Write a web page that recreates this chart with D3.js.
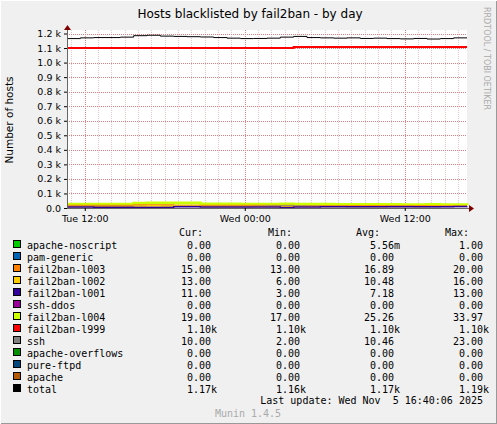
<!DOCTYPE html><html><head><script src="https://cdn.jsdelivr.net/npm/d3@7"></script>
<style>body{margin:0;background:#f0f0f0}text{font-family:"DejaVu Sans",sans-serif}.m{font-family:"DejaVu Sans Mono",monospace;font-size:10px}</style></head><body>
<svg id="c" width="497" height="424"></svg>
<script>
const hours=d3.range(31);
const total=[1165,1170,1172,1172,1175,1185,1188,1182,1180,1178,1176,1172,1168,1165,1166,1168,1175,1180,1172,1170,1168,1170,1166,1168,1165,1163,1166,1162,1165,1170,1170];
const l999=[1100,1100,1100,1100,1100,1100,1100,1100,1100,1100,1100,1100,1100,1100,1100,1100,1100,1108,1108,1108,1108,1108,1108,1108,1108,1108,1108,1108,1108,1108,1108];
const l004=[26,26,26,26,26,32,34,34,34,34,28,27,27,26,26,26,27,26,25,25,24,24,24,24,24,23,23,24,23,22,19];
const sshV=[10,10,10,10,10,14,16,14,12,12,10,10,10,10,12,14,16,14,12,10,10,8,8,8,10,10,8,8,10,10,10];
const l003=[17,17,17,17,17,20,20,20,18,18,17,17,17,17,17,17,17,16,16,16,16,16,16,16,16,16,16,15,15,15,15];
const l002=[10,10,10,10,10,14,16,14,12,12,10,10,10,10,10,10,10,10,10,10,10,10,10,10,10,10,10,12,12,13,13];
const l001=[7,7,6,6,6,3,3,3,8,8,7,7,7,7,7,7,3,7,7,8,8,8,8,8,8,8,8,8,9,10,11];
const names=["apache-noscript","pam-generic","fail2ban-l003","fail2ban-l002","fail2ban-l001","ssh-ddos","fail2ban-l004","fail2ban-l999","ssh","apache-overflows","pure-ftpd","apache","total"];
const colors=["#00cc00","#0066b3","#ff8000","#ffcc00","#330099","#990099","#ccff00","#ff0000","#808080","#008f00","#00487d","#b35a00","#000000"];
const cur=["0.00","0.00","15.00","13.00","11.00","0.00","19.00","1.10k","10.00","0.00","0.00","0.00","1.17k"];
const mn=["0.00","0.00","13.00","6.00","3.00","0.00","17.00","1.10k","2.00","0.00","0.00","0.00","1.16k"];
const avg=["5.56m","0.00","16.89","10.48","7.18","0.00","25.26","1.10k","10.46","0.00","0.00","0.00","1.17k"];
const mx=["1.00","0.00","20.00","16.00","13.00","0.00","33.97","1.10k","23.00","0.00","0.00","0.00","1.19k"];
const yTicks=d3.range(0,1201,100);
const xTicks=[{h:1.333,l:"Tue 12:00"},{h:13.333,l:"Wed 00:00"},{h:25.333,l:"Wed 12:00"}];

const svg=d3.select("#c");
svg.append("rect").attr("width",497).attr("height",424).attr("fill","#f0f0f0");
svg.append("line").attr("x1",0).attr("x2",497).attr("y1",423.5).attr("y2",423.5).attr("stroke","#999");
svg.append("line").attr("x1",496.5).attr("x2",496.5).attr("y1",0).attr("y2",424).attr("stroke","#999");
svg.append("line").attr("x1",0).attr("x2",497).attr("y1",0.5).attr("y2",0.5).attr("stroke","#fff");
svg.append("line").attr("x1",0.5).attr("x2",0.5).attr("y1",0).attr("y2",424).attr("stroke","#fff");
const L=67,R=467,T=34,B=208;
const x=d3.scaleLinear().domain([0,30]).range([L,R]);
const y=d3.scaleLinear().domain([0,1200]).range([B,33.5]);
svg.append("rect").attr("x",L).attr("y",30).attr("width",R-L).attr("height",B-30).attr("fill","#fff");
const g=svg.append("g");
d3.range(0,31).forEach(h=>{const xx=Math.round(x(h+0.333))+0.5; if(xx<R) g.append("line").attr("x1",xx).attr("x2",xx).attr("y1",30).attr("y2",B).attr("stroke","#e6c8c8").attr("stroke-dasharray","1,1");});
yTicks.forEach(v=>{const yy=Math.round(y(v))+0.5;g.append("line").attr("x1",L).attr("x2",R).attr("y1",yy).attr("y2",yy).attr("stroke","#e08080").attr("stroke-dasharray","1,1");});
xTicks.forEach(t=>{const xx=Math.round(x(t.h))+0.5;g.append("line").attr("x1",xx).attr("x2",xx).attr("y1",30).attr("y2",B).attr("stroke","#e08080").attr("stroke-dasharray","1,1");});
const line=d3.line().x((d,i)=>x(i)).y(d=>y(d)).curve(d3.curveStepAfter);
const lay=[[l004,6],[l003,2],[sshV,8],[l002,3],[l001,4]];
lay.forEach(([a,i])=>g.append("path").attr("d",line(a)).attr("fill","none").attr("stroke",colors[i]).attr("stroke-width",i==6?3:1.5));
g.append("path").attr("d",line(l999)).attr("fill","none").attr("stroke","#ff0000").attr("stroke-width",2);
g.append("path").attr("d",line(total)).attr("fill","none").attr("stroke","#000").attr("stroke-width",1);
// axes
const ax=svg.append("g").attr("transform",`translate(0,${B})`).call(d3.axisBottom(x).tickValues(xTicks.map(t=>t.h)).tickFormat((d,i)=>xTicks[i].l).tickSize(3));
ax.select(".domain").attr("d",`M${L},0.5H${R+5}`).attr("stroke","#666");
ax.selectAll("text").attr("font-size",9.5).attr("fill","#000").attr("dy",8);
const ay=svg.append("g").attr("transform",`translate(${L},0)`).call(d3.axisLeft(y).tickValues(yTicks).tickFormat(d=>d3.format(".1f")(d/1000)+" k").tickSize(3));
ay.select(".domain").attr("d",`M0.5,${B}V${28}`).attr("stroke","#666");
ay.selectAll("text").attr("font-size",9.5).attr("fill","#000");
ay.selectAll("text").filter(d=>d==0).text("0.0");
svg.append("path").attr("d",`M${R+2},${B-3}L${R+7},${B+0.5}L${R+2},${B+4}Z`).attr("fill","#800000");
svg.append("path").attr("d",`M${L-3},30L${L+0.5},25L${L+4},30Z`).attr("fill","#800000");
svg.append("text").attr("x",250).attr("y",18).attr("text-anchor","middle").attr("font-size",12).text("Hosts blacklisted by fail2ban - by day");
svg.append("text").attr("transform","translate(13,120) rotate(-90)").attr("text-anchor","middle").attr("font-size",10.5).text("Number of hosts");
svg.append("text").attr("transform","translate(484,7) rotate(90)").attr("font-size",8).attr("fill","#aaa").text("RRDTOOL / TOBI OETIKER");
// legend
const cols=[[203,"Cur:"],[292,"Min:"],[380,"Avg:"],[469,"Max:"]];
cols.forEach(c=>svg.append("text").attr("class","m").attr("x",c[0]).attr("y",236).attr("text-anchor","end").text(c[1]));
const vals=[cur,mn,avg,mx],rx=[211,300,394,483];
names.forEach((n,i)=>{const yy=249+i*12;
 svg.append("rect").attr("x",13.5).attr("y",yy-8.5).attr("width",7).attr("height",7).attr("fill",colors[i]).attr("stroke","#000");
 svg.append("text").attr("class","m").attr("x",27).attr("y",yy).text(n);
 vals.forEach((v,j)=>{const s=v[i];const k=/[km]$/.test(s);svg.append("text").attr("class","m").attr("x",k?rx[j]+6:rx[j]).attr("y",yy).attr("text-anchor","end").text(s);});
});
svg.append("text").attr("class","m").attr("x",483).attr("y",404).attr("text-anchor","end").attr("xml:space","preserve").text("Last update: Wed Nov  5 16:40:06 2025");
svg.append("text").attr("class","m").attr("x",248).attr("y",417).attr("text-anchor","middle").attr("font-size",8.5).attr("fill","#aaa").text("Munin 1.4.5");
</script></body></html>
